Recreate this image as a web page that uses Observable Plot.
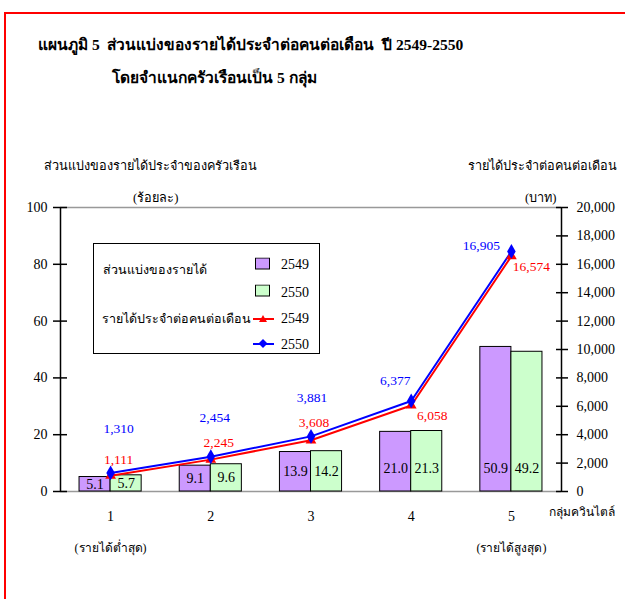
<!DOCTYPE html>
<html><head><meta charset="utf-8">
<script src="https://cdn.jsdelivr.net/npm/d3@7"></script>
<script src="https://cdn.jsdelivr.net/npm/@observablehq/plot@0.6"></script>
<style>
body{margin:0;width:625px;height:599px;overflow:hidden;background:#fff;font-family:"Liberation Serif",serif;color:#000;position:relative}
.abs{position:absolute;white-space:nowrap}
#border{position:absolute;left:4px;top:12px;width:800px;height:800px;border-left:2px solid #f00;border-top:2px solid #f00}
.t{font-weight:bold;font-size:15.5px}
.ax{font-size:12.7px}
#legend{position:absolute;left:93px;top:243px;width:225px;height:109px;border:1px solid #000;background:#fff}
#legend .abs{transform:translateY(-50%)}
#legend .th{font-size:12.5px}
#legend .num{font-size:14px}
#chart{position:absolute;left:0;top:140px}
</style></head>
<body>
<div id="border"></div>
<div class="abs t" style="left:38px;top:32px">แผนภูมิ 5&nbsp; ส่วนแบ่งของรายได้ประจำต่อคนต่อเดือน&nbsp; ปี 2549-2550</div>
<div class="abs t" style="left:112px;top:65px">โดยจำแนกครัวเรือนเป็น 5 กลุ่ม</div>
<div class="abs ax" style="left:44px;top:155px">ส่วนแบ่งของรายได้ประจำของครัวเรือน</div>
<div class="abs ax" style="left:133px;top:187px">(ร้อยละ)</div>
<div class="abs ax" style="right:8px;top:155px">รายได้ประจำต่อคนต่อเดือน</div>
<div class="abs ax" style="left:525px;top:187px">(บาท)</div>
<div id="chart"></div>
<div class="abs" style="left:549px;top:502px;font-size:12px">กลุ่มควินไตล์</div>
<div id="legend"></div>
<script>
// ---- data ----
const groups = [1, 2, 3, 4, 5];
const groupNotes = ["(รายได้ต่ำสุด)", "", "", "", "(รายได้สูงสุด)"];
const years = ["2549", "2550"];
const share2549 = [5.1, 9.1, 13.9, 21.0, 50.9];
const share2550 = [5.7, 9.6, 14.2, 21.3, 49.2];
const income2549 = [1111, 2245, 3608, 6058, 16574];
const income2550 = [1310, 2454, 3881, 6377, 16905];
const leftTicks = [0, 20, 40, 60, 80, 100];
const rightTicks = [0, 2000, 4000, 6000, 8000, 10000, 12000, 14000, 16000, 18000, 20000];
const shareLegendTitle = "ส่วนแบ่งของรายได้";
const incomeLegendTitle = "รายได้ประจำต่อคนต่อเดือน";

// ---- styling ----
const barColors = {"2549": "#CC99FF", "2550": "#CCFFCC"};
const lineColors = {"2549": "#FF0000", "2550": "#0000FF"};
const BW = 0.31;                    // bar width in group units
const ratio = rightTicks[rightTicks.length - 1] / leftTicks[leftTicks.length - 1];
const xDomain = [groups[0] - 0.5, groups[groups.length - 1] + 0.5];
const yDomain = [leftTicks[0], leftTicks[leftTicks.length - 1]];
// label offsets (px) for line value labels
const offs2549 = [[8, -16], [8, -17], [3, -18], [21, 10], [20, 11]];
const offs2550 = [[8, -44], [4, -39], [1, -39], [-16, -20], [-30, -6]];

const bars = groups.flatMap((g, i) => [
  {g, year: years[0], v: share2549[i], side: -1},
  {g, year: years[1], v: share2550[i], side: 1}
]);
const inc = groups.flatMap((g, i) => [
  {g, year: years[0], v: income2549[i], i},
  {g, year: years[1], v: income2550[i], i}
]);
const fmt = d3.format(",");

const labelMarks = inc.map(d => {
  const o = (d.year === years[0] ? offs2549 : offs2550)[d.i];
  return Plot.text([d], {x: "g", y: r => r.v / ratio, text: r => fmt(r.v), fill: lineColors[d.year], dx: o[0], dy: o[1], fontSize: 13.5});
});

const chart = Plot.plot({
  width: 625, height: 440,
  marginLeft: 60, marginRight: 64, marginTop: 67, marginBottom: 89,
  style: {fontFamily: "Liberation Serif, serif", fontSize: "14px", background: "none", color: "#000"},
  x: {domain: xDomain, axis: null},
  y: {domain: yDomain, axis: null},
  marks: [
    Plot.ruleY(yDomain, {stroke: "#999", strokeWidth: 1.5}),
    Plot.rectY(bars, {
      x1: d => d.side < 0 ? d.g - BW : d.g,
      x2: d => d.side < 0 ? d.g : d.g + BW,
      y1: 0, y2: "v",
      fill: d => barColors[d.year], stroke: "#000", strokeWidth: 1
    }),
    Plot.text(bars, {
      x: d => d.g + d.side * BW / 2, y: d => Math.min(d.v / 2, 8.2),
      text: d => d.v.toFixed(1), fontSize: 14, fill: "#000"
    }),
    Plot.line(inc.filter(d => d.year === years[0]), {x: "g", y: d => d.v / ratio, stroke: lineColors["2549"], strokeWidth: 2}),
    Plot.line(inc.filter(d => d.year === years[1]), {x: "g", y: d => d.v / ratio, stroke: lineColors["2550"], strokeWidth: 2}),
    Plot.dot(inc.filter(d => d.year === years[0]), {x: "g", y: d => d.v / ratio, symbol: "triangle", r: 4, fill: lineColors["2549"], stroke: "none"}),
    Plot.dot(inc.filter(d => d.year === years[1]), {x: "g", y: d => d.v / ratio, symbol: "diamond", r: 4.5, fill: lineColors["2550"], stroke: "none"}),
    ...labelMarks,
    Plot.ruleX([xDomain[0], xDomain[1]], {stroke: "#000", strokeWidth: 1.5}),
    Plot.axisY({anchor: "left", ticks: leftTicks, tickSize: 7, tickPadding: 6, label: null, strokeWidth: 1.5}),
    Plot.axisY({anchor: "left", ticks: leftTicks, tickSize: -7, text: null, label: null, strokeWidth: 1.5}),
    Plot.axisY({anchor: "right", ticks: rightTicks.map(t => t / ratio), tickSize: 6, tickPadding: 9, tickFormat: t => fmt(t * ratio), label: null, strokeWidth: 1.5}),
    Plot.axisY({anchor: "right", ticks: rightTicks.map(t => t / ratio), tickSize: -6, text: null, label: null, strokeWidth: 1.5}),
    Plot.axisX({ticks: groups, tickSize: 0, tickPadding: 20, tickFormat: d => String(d), label: null}),
    Plot.text(groups, {x: d => d, y: 0, text: (d, i) => groupNotes[i], dy: 57, fontSize: 12})
  ]
});
document.getElementById("chart").append(chart);

// ---- legend ----
const lg = document.getElementById("legend");
function add(html, left, top, cls) {
  const el = document.createElement("div");
  el.className = "abs " + (cls || ""); el.style.left = left + "px"; el.style.top = top + "px";
  el.innerHTML = html; lg.append(el);
}
add(shareLegendTitle, 9, 26, "th");
add(incomeLegendTitle, 8, 75, "th");
years.forEach((y, k) => {
  add(`<svg width="16" height="13" style="display:block"><rect x="0.5" y="0.5" width="14" height="11" fill="${barColors[y]}" stroke="#000"/></svg>`, 161, 20 + k * 27);
  add(y, 187, 21 + k * 28, "num");
});
years.forEach((y, k) => {
  const sym = k === 0
    ? `<path d="M10,2 L14,9 L6,9 Z" fill="${lineColors[y]}"/>`
    : `<path d="M10,1 L14.5,5.5 L10,10 L5.5,5.5 Z" fill="${lineColors[y]}"/>`;
  add(`<svg width="21" height="12" style="display:block"><line x1="0" x2="21" y1="6" y2="6" stroke="${lineColors[y]}" stroke-width="2"/>${sym}</svg>`, 159, 75 + k * 25);
  add(y, 187, 75 + k * 26, "num");
});
</script>
</body></html>
